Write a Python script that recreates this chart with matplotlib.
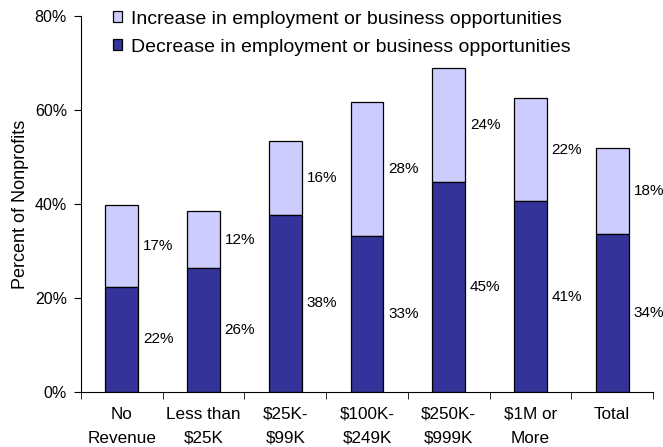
import matplotlib.pyplot as plt
import numpy as np

plt.rcParams['font.family'] = ['Liberation Sans', 'DejaVu Sans']

categories = ["No\nRevenue", "Less than\n$25K", "$25K-\n$99K", "$100K-\n$249K",
              "$250K-\n$999K", "$1M or\nMore", "Total"]
decrease = [22.4, 26.3, 37.7, 33.3, 44.6, 40.6, 33.6]
increase = [17.3, 12.2, 15.8, 28.4, 24.3, 22.0, 18.4]
yticks = [0, 20, 40, 60, 80]

dark = '#333399'
light = '#CCCCFF'

fig = plt.figure(figsize=(6.63, 4.47), dpi=100)
ax = fig.add_axes([0.122, 0.123, 0.863, 0.841])

x = np.arange(len(categories))
w = 0.4
b_inc = ax.bar(x, increase, w, bottom=decrease, color=light, edgecolor='black',
               linewidth=0.9, label="Increase in employment or business opportunities")
b_dec = ax.bar(x, decrease, w, color=dark, edgecolor='black', linewidth=0.9,
               label="Decrease in employment or business opportunities")

# value labels to the right of each segment
for i in range(len(categories)):
    ax.annotate("%.0f%%" % decrease[i], (x[i] + w / 2, decrease[i] / 2),
                xytext=(3.5, 0), textcoords='offset points', va='center', ha='left',
                fontsize=11)
    ax.annotate("%.0f%%" % increase[i], (x[i] + w / 2, decrease[i] + increase[i] / 2),
                xytext=(3.5, 0), textcoords='offset points', va='center', ha='left',
                fontsize=11)

ax.set_xlim(-0.5, len(categories) - 0.5)
ax.set_ylim(0, 80)
ax.set_yticks(yticks)
ax.set_yticklabels(["%d%%" % v for v in yticks], fontsize=11.5)
ax.set_xticks(x)
ax.set_xticklabels(categories, fontsize=12.3, linespacing=1.75)
ax.set_xticks(np.arange(len(categories) + 1) - 0.5, minor=True)
ax.tick_params(axis='x', which='major', length=0, pad=10.5)
ax.tick_params(axis='x', which='minor', length=5, direction='out')
ax.tick_params(axis='y', length=5, direction='out', pad=5)
ax.set_ylabel("Percent of Nonprofits", fontsize=13, labelpad=4)

for s in ['top', 'right']:
    ax.spines[s].set_visible(False)

ax.legend(handles=[b_inc, b_dec], loc='upper left', bbox_to_anchor=(0.035, 1.045),
          frameon=False, fontsize=14, handlelength=0.5, handleheight=0.5,
          handletextpad=0.45, labelspacing=0.55, borderaxespad=0.2)

fig.savefig("out.png", dpi=100)
